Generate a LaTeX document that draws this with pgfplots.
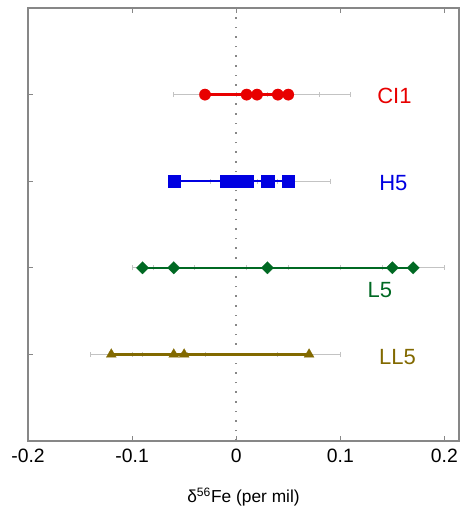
\documentclass[border=0pt]{standalone}
\usepackage{fontspec}
\setmainfont{Liberation Sans}
\usepackage{pgfplots}
\pgfplotsset{compat=1.18}
\definecolor{cired}{RGB}{232,0,0}
\definecolor{hblue}{RGB}{0,0,225}
\definecolor{lgreen}{RGB}{0,105,35}
\definecolor{llolive}{RGB}{130,105,0}
\definecolor{axgray}{RGB}{135,135,135}
\definecolor{errgray}{RGB}{195,195,195}
\begin{document}
\begin{tikzpicture}
\begin{axis}[
  name=ax,
  scale only axis,
  width=323.25pt, height=324.75pt,
  xmin=-0.2, xmax=0.214, ymin=0, ymax=5,
  xtick={-0.2,-0.1,0,0.1,0.2},
  ytick={1,2,3,4}, yticklabels={},
  xtick pos=both, ytick pos=left,
  tick align=inside,
  major tick length=4pt,
  axis line style={axgray, line width=0.8pt},
  tick style={axgray, line width=0.6pt},
  /pgf/number format/assume math mode=true,
  /pgf/number format/fixed,
  xticklabel style={font=\fontsize{14.5}{15}\selectfont, yshift=-2.5pt},
  xlabel={δ\textsuperscript{56}Fe (per mil)},
  xlabel style={font=\fontsize{13}{14}\selectfont, yshift=-12pt},
  clip=false,
]
% dotted zero line
\addplot[axgray, line width=1.2pt, dash pattern=on 1.2pt off 6pt, forget plot] coordinates {(0,0) (0,5)};

% error bars
\pgfplotsset{errst/.style={mark=none, draw=none, forget plot,
  error bars/.cd, x dir=both, x explicit,
  error bar style={draw=errgray, line width=0.7pt, solid},
  error mark options={draw=errgray, rotate=90, mark size=1.9pt, line width=0.6pt}}}

\addplot[errst] table[x=x, y=y, x error=e] {
x y e
-0.03 4 0.03
0.01 4 0.01
0.02 4 0.01
0.04 4 0.07
0.05 4 0.03
};
\addplot[errst] table[x=x, y=y, x error=e] {
x y e
-0.06 3 0.004
-0.01 3 0.015
0.00 3 0.015
0.01 3 0.015
0.03 3 0.01
0.05 3 0.04
};
\addplot[errst] table[x=x, y=y, x error=e] {
x y e
-0.09 2 0.01
-0.06 2 0.02
0.03 2 0.02
0.15 2 0.05
0.17 2 0.03
};
\addplot[errst] table[x=x, y=y, x error=e] {
x y e
-0.12 1 0.02
-0.06 1 0.03
-0.05 1 0.003
0.07 1 0.03
};

% data
\addplot[cired, line width=1.8pt, mark=*, mark size=4.3pt, mark options={solid, fill=cired, draw=cired, line width=0.1pt}] coordinates {
(-0.03,4) (0.01,4) (0.02,4) (0.04,4) (0.05,4)};
\addplot[hblue, line width=1.8pt, mark=square*, mark size=4.6pt, mark options={solid, fill=hblue, draw=hblue, line width=0.1pt}] coordinates {
(-0.06,3) (-0.01,3) (0.00,3) (0.01,3) (0.03,3) (0.05,3)};
\addplot[lgreen, line width=1.8pt, mark=square*, mark size=3.3pt, mark options={solid, rotate=45, fill=lgreen, draw=lgreen, line width=0.1pt}] coordinates {
(-0.09,2) (-0.06,2) (0.03,2) (0.15,2) (0.17,2)};
\addplot[llolive, line width=1.8pt, mark=triangle*, mark size=4.4pt, mark options={solid, fill=llolive, draw=llolive, line width=0.1pt}] coordinates {
(-0.12,1) (-0.06,1) (-0.05,1) (0.07,1)};

% labels
\node[text=cired, font=\fontsize{16.5}{18}\selectfont] at (axis cs:0.152,3.98) {CI1};
\node[text=hblue, font=\fontsize{16.5}{18}\selectfont] at (axis cs:0.151,2.98) {H5};
\node[text=lgreen, font=\fontsize{16.5}{18}\selectfont] at (axis cs:0.138,1.74) {L5};
\node[text=llolive, font=\fontsize{16.5}{18}\selectfont] at (axis cs:0.155,0.97) {LL5};
\end{axis}
\path (ax.south west) ++(-21pt,-59.25pt) coordinate (bl);
\path (ax.north east) ++(2.25pt,6pt) coordinate (tr);
\pgfresetboundingbox
\path[use as bounding box] (bl) rectangle (tr);
\end{tikzpicture}
\end{document}
